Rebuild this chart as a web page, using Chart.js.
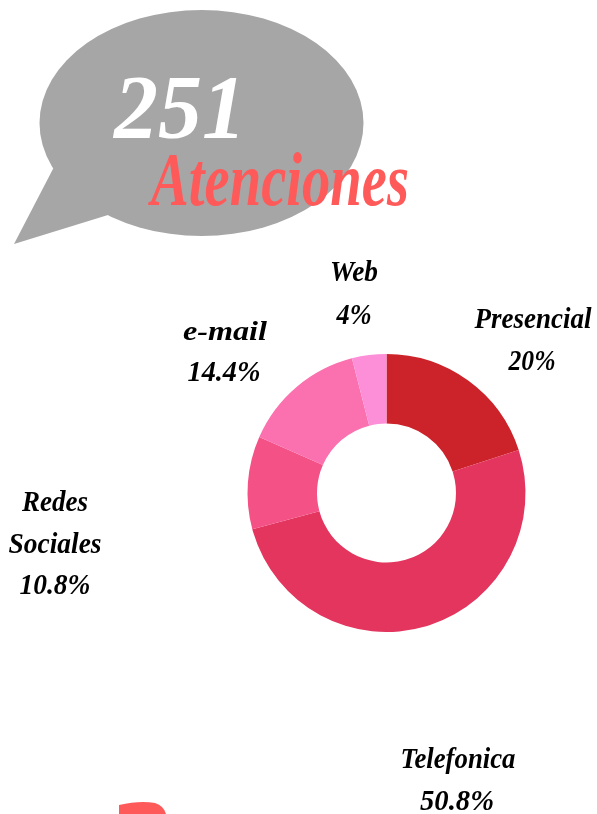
<!DOCTYPE html>
<html><head><meta charset="utf-8">
<style>html,body{margin:0;padding:0;background:#fff;overflow:hidden}#w{position:relative;width:597px;height:814px}</style>
<script src="https://cdn.jsdelivr.net/npm/chart.js@4"></script>
</head><body><div id="w"><canvas id="c" width="597" height="814"></canvas></div>
<script>
const categories = ["Presencial","Telefonica","Redes Sociales","e-mail","Web"];
const values = [20,50.8,10.8,14.4,4];
const colors = ["#cc2229","#e3355e","#f45287","#fb70ae","#fd8fd8"];
const FONT = '"Liberation Serif"';
// text, centre x, centre y, target width, font size
const labels = [
 ["Web",354,273,48,30],["4%",354,316,35,30],
 ["Presencial",533,320,117,30],["20%",532,362,47,30],
 ["e-mail",225,333,84,27],["14.4%",224,373,73,30],
 ["Redes",55,503,66,30],["Sociales",55,545,93,30],["10.8%",55,586,71,30],
 ["Telefonica",458,760,115,30],["50.8%",457,802,74,30]
];
function fit(ctx,t,cx,cy,w,size,color){
  ctx.save();
  ctx.font='italic bold '+size+'px '+FONT;
  ctx.textAlign='center';ctx.textBaseline='middle';ctx.fillStyle=color;
  const m=ctx.measureText(t).width;
  ctx.translate(cx,cy);ctx.scale(w/m,1);
  ctx.fillText(t,0,0);
  ctx.restore();
}
const backdrop={id:'backdrop',beforeDraw(ch){
  const x=ch.ctx;x.save();
  x.fillStyle='#a6a6a6';
  x.beginPath();x.ellipse(201.5,123,162,113,0,0,Math.PI*2);x.fill();
  x.beginPath();x.moveTo(54,167);x.lineTo(14,244);x.lineTo(108,215);x.lineTo(160,190);x.lineTo(80,130);x.closePath();x.fill();
  x.fillStyle='#ff5a5a';
  x.beginPath();x.moveTo(119,814);x.lineTo(119,805);x.quadraticCurveTo(140,800,155,803);x.quadraticCurveTo(164,806,166,814);x.closePath();x.fill();
  x.restore();
}};
const texts={id:'texts',afterDraw(ch){
  const x=ch.ctx;
  fit(x,"251",180,115,132,90,'#ffffff');
  fit(x,"Atenciones",280,185,258,76,'#ff5a5a');
  labels.forEach(l=>fit(x,l[0],l[1],l[2],l[3],l[4],'#000000'));
}};
new Chart(document.getElementById('c'),{
  type:'doughnut',
  data:{labels:categories,datasets:[{data:values,backgroundColor:colors,borderWidth:0}]},
  options:{responsive:false,animation:false,cutout:'50%',
    layout:{padding:{left:247.5,right:71.5,top:354,bottom:182}},
    plugins:{legend:{display:false},tooltip:{enabled:false},title:{display:false}}},
  plugins:[backdrop,texts]
});
</script></body></html>
